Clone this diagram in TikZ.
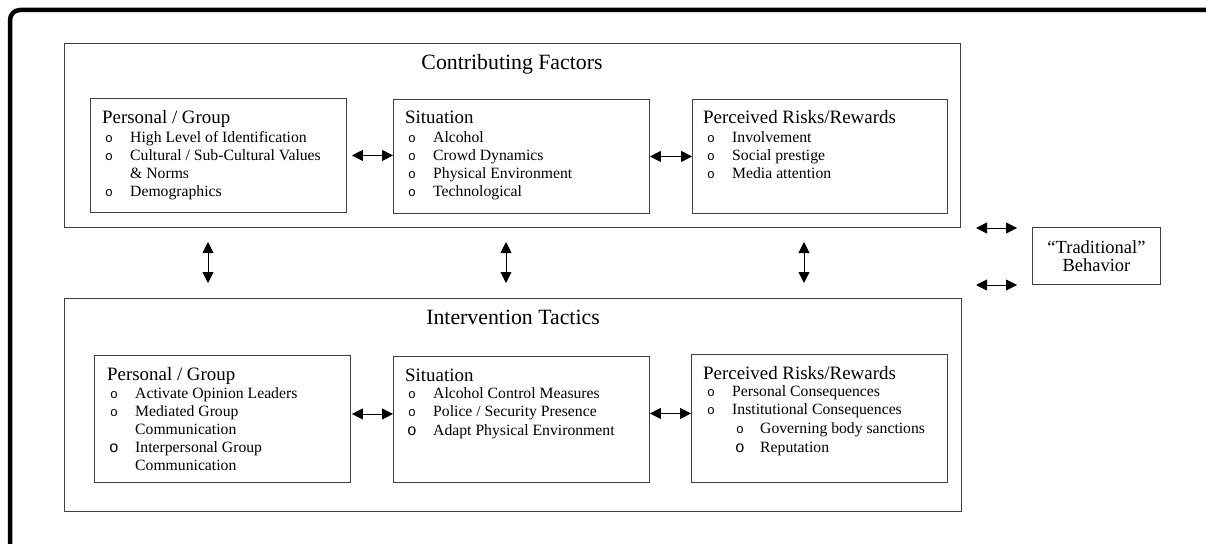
\documentclass[tikz,border=0pt]{standalone}
\usepackage{fontspec}
\setmainfont{Liberation Serif}
\newfontfamily\bulfont{Liberation Mono}
\usetikzlibrary{arrows.meta}
\tikzset{
  boxline/.style={draw=black!75, line width=0.9pt},
  box/.style={boxline, anchor=north west, inner sep=0pt},
  ttl/.style={font=\fontsize{21.8}{24}\selectfont, inner sep=0pt, anchor=base},
  hdr/.style={font=\fontsize{18.9}{22}\selectfont, inner sep=0pt, anchor=base west},
  itm/.style={font=\fontsize{15.7}{18}\selectfont, inner sep=0pt, anchor=base west},
  bul/.style={font=\bulfont\fontsize{13}{18}\selectfont, inner sep=0pt, anchor=base west},
  bigbul/.style={font=\bulfont\fontsize{16}{18}\selectfont, inner sep=0pt, anchor=base west},
  arr/.style={{Triangle[length=11pt,width=11pt]}-{Triangle[length=11pt,width=11pt]}, line width=0.9pt},
}
\begin{document}
\begin{tikzpicture}[x=1pt,y=-1pt]
\useasboundingbox (0,0) rectangle (1206,543);
% outer frame
\draw[line width=4.5pt, rounded corners=10pt] (1240,10) -- (10,10) -- (10,580);

% containers
\node[box, minimum width=896pt, minimum height=184pt] (cf) at (64,43) {};
\node[box, minimum width=897pt, minimum height=213pt] (it) at (64,298) {};
\node[ttl] (cft) at (512,69) {Contributing Factors};
\node[ttl] (itt) at (513,324) {Intervention Tactics};

% inner boxes top
\node[box, minimum width=256pt, minimum height=114pt] (pg1) at (90,98) {};
\node[box, minimum width=256pt, minimum height=114pt] (sit1) at (393,99) {};
\node[box, minimum width=255pt, minimum height=114pt] (per1) at (692,99) {};
% inner boxes bottom
\node[box, minimum width=256pt, minimum height=127pt] (pg2) at (94,355) {};
\node[box, minimum width=256pt, minimum height=126pt] (sit2) at (393,356) {};
\node[box, minimum width=256pt, minimum height=128pt] (per2) at (691,354) {};
% traditional behavior
\node[box, minimum width=128pt, minimum height=57pt, align=center,
      font=\fontsize{18.5}{18}\selectfont] (trad) at (1032,227) {“Traditional”\\Behavior};

% top personal/group
\node[hdr] (h1) at (102,123) {Personal / Group};
\node[bul] (b1a) at (105,142) {o}; \node[itm] (t1a) at (130,142) {High Level of Identification};
\node[bul] (b1b) at (105,160) {o}; \node[itm] (t1b) at (130,160) {Cultural / Sub-Cultural Values};
\node[itm] (t1c) at (130,178) {\& Norms};
\node[bul] (b1d) at (105,196) {o}; \node[itm] (t1d) at (130,196) {Demographics};

% top situation
\node[hdr] (h2) at (405,123) {Situation};
\node[bul] (b2a) at (408,142) {o}; \node[itm] (t2a) at (433,142) {Alcohol};
\node[bul] (b2b) at (408,160) {o}; \node[itm] (t2b) at (433,160) {Crowd Dynamics};
\node[bul] (b2c) at (408,178) {o}; \node[itm] (t2c) at (433,178) {Physical Environment};
\node[bul] (b2d) at (408,196) {o}; \node[itm] (t2d) at (433,196) {Technological};

% top perceived
\node[hdr] (h3) at (703,123) {Perceived Risks/Rewards};
\node[bul] (b3a) at (707,142) {o}; \node[itm] (t3a) at (732,142) {Involvement};
\node[bul] (b3b) at (707,160) {o}; \node[itm] (t3b) at (732,160) {Social prestige};
\node[bul] (b3c) at (707,178) {o}; \node[itm] (t3c) at (732,178) {Media attention};

% bottom personal/group
\node[hdr] (h4) at (107,380) {Personal / Group};
\node[bul] (b4a) at (110,398) {o}; \node[itm] (t4a) at (135,398) {Activate Opinion Leaders};
\node[bul] (b4b) at (110,416) {o}; \node[itm] (t4b) at (135,416) {Mediated Group};
\node[itm] (t4c) at (135,434) {Communication};
\node[bigbul] (b4d) at (109,452) {o}; \node[itm] (t4d) at (135,452) {Interpersonal Group};
\node[itm] (t4e) at (135,470) {Communication};

% bottom situation
\node[hdr] (h5) at (405,381) {Situation};
\node[bul] (b5a) at (408,398) {o}; \node[itm] (t5a) at (433,398) {Alcohol Control Measures};
\node[bul] (b5b) at (408,416) {o}; \node[itm] (t5b) at (433,416) {Police / Security Presence};
\node[bigbul] (b5c) at (407,435) {o}; \node[itm] (t5c) at (433,435) {Adapt Physical Environment};

% bottom perceived
\node[hdr] (h6) at (703,379) {Perceived Risks/Rewards};
\node[bul] (b6a) at (707,396) {o}; \node[itm] (t6a) at (732,396) {Personal Consequences};
\node[bul] (b6b) at (707,414) {o}; \node[itm] (t6b) at (732,414) {Institutional Consequences};
\node[bul] (b6c) at (736,433) {o}; \node[itm] (t6c) at (760,433) {Governing body sanctions};
\node[bigbul] (b6d) at (735,452) {o}; \node[itm] (t6d) at (760,452) {Reputation};

% horizontal arrows
\draw[arr, shorten <=5pt] (pg1.east) -- (sit1.west |- pg1.east);
\draw[arr] (sit1.east) -- (per1.west |- sit1.east);
\draw[arr, shorten <=1pt] ([yshift=5pt]pg2.east) -- ([yshift=5pt]pg2.east -| sit2.west);
\draw[arr] ([yshift=6pt]sit2.east) -- ([yshift=6pt]sit2.east -| per2.west);

% vertical arrows
\coordinate (va1) at (208,242); \coordinate (vb1) at (208,283);
\coordinate (va2) at (506,242); \coordinate (vb2) at (506,283);
\coordinate (va3) at (804,242); \coordinate (vb3) at (804,283);
\draw[arr] (va1) -- (vb1);
\draw[arr] (va2) -- (vb2);
\draw[arr] (va3) -- (vb3);

% arrows to traditional behavior
\coordinate (ra1) at (976,228); \coordinate (rb1) at (1017,228);
\coordinate (ra2) at (976,285); \coordinate (rb2) at (1017,285);
\draw[arr] (ra1) -- (rb1);
\draw[arr] (ra2) -- (rb2);
\end{tikzpicture}
\end{document}
